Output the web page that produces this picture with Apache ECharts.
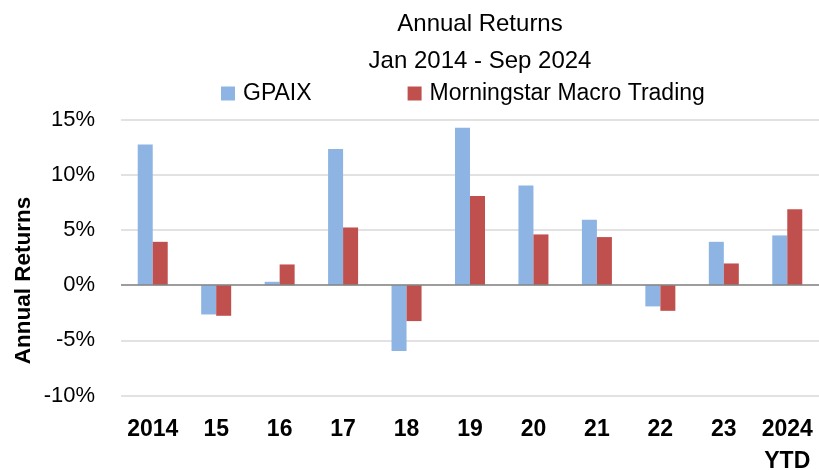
<!DOCTYPE html>
<html>
<head>
<meta charset="utf-8">
<script src="https://cdn.jsdelivr.net/npm/echarts@6/dist/echarts.min.js"></script>
<style>
  html, body { margin: 0; padding: 0; background: #fff; }
  #chart { width: 819px; height: 470px; }
</style>
</head>
<body>
<div id="chart"></div>
<script>
// categories and annual returns (%)
const years = ['2014', '15', '16', '17', '18', '19', '20', '21', '22', '23', '2024\nYTD']
const gpaix = [12.74, -2.66, 0.3, 12.32, -5.98, 14.25, 9.03, 5.92, -1.93, 3.92, 4.5]
const macro = [3.92, -2.78, 1.87, 5.22, -3.26, 8.06, 4.59, 4.35, -2.33, 1.96, 6.88]
const yTicks = [-10, -5, 0, 5, 10, 15]

const font = '"Liberation Sans", Arial, sans-serif'

const chart = echarts.init(document.getElementById('chart'))

chart.setOption({
  animation: false,
  textStyle: { fontFamily: font, color: '#000' },
  title: [
    {
      text: 'Annual Returns',
      left: 475, top: 7, textAlign: 'center',
      textStyle: { fontFamily: font, fontSize: 24, fontWeight: 'normal', color: '#000' }
    },
    {
      text: 'Jan 2014 - Sep 2024',
      left: 475, top: 44, textAlign: 'center',
      textStyle: { fontFamily: font, fontSize: 24, fontWeight: 'normal', color: '#000' }
    }
  ],
  legend: {
    left: 216, top: 77,
    itemWidth: 14, itemHeight: 14, itemGap: 96,
    icon: 'rect',
    textStyle: { fontFamily: font, fontSize: 23, color: '#000', padding: [0, 0, 0, 3] },
    data: ['GPAIX', 'Morningstar Macro Trading']
  },
  grid: { left: 121, right: 0, top: 119.5, bottom: 74.5, outerBoundsMode: 'none' },
  xAxis: {
    type: 'category',
    data: years,
    axisLine: { show: false, onZero: false },
    axisTick: { show: false },
    axisLabel: {
      interval: 0,
      margin: 18, fontFamily: font, fontSize: 23, fontWeight: 'bold',
      color: '#000', lineHeight: 32, verticalAlign: 'top'
    }
  },
  yAxis: {
    type: 'value',
    min: yTicks[0], max: yTicks[yTicks.length - 1], interval: 5,
    name: 'Annual Returns',
    nameLocation: 'middle', nameGap: 86, nameRotate: 90,
    nameMoveOverlap: false,
    nameTextStyle: {
      fontFamily: font, fontSize: 22.5, fontWeight: 'bold', color: '#000',
      padding: [0, 46, 0, 0]
    },
    axisLine: { show: false },
    axisTick: { show: false },
    axisLabel: { margin: 26, fontFamily: font, fontSize: 22, color: '#000', formatter: '{value}%' },
    splitLine: { lineStyle: { color: '#d9d9d9', width: 1.5 } }
  },
  series: [
    {
      name: 'GPAIX',
      type: 'bar',
      data: gpaix,
      barWidth: 15,
      barGap: '0%',
      itemStyle: { color: '#8db4e2' },
      markLine: {
        silent: true, symbol: 'none', label: { show: false },
        lineStyle: { color: '#868686', width: 1.5, type: 'solid' },
        data: [{ yAxis: 0 }]
      }
    },
    {
      name: 'Morningstar Macro Trading',
      type: 'bar',
      data: macro,
      barWidth: 15,
      barGap: '0%',
      itemStyle: { color: '#c0504d' }
    }
  ]
})
</script>
</body>
</html>
